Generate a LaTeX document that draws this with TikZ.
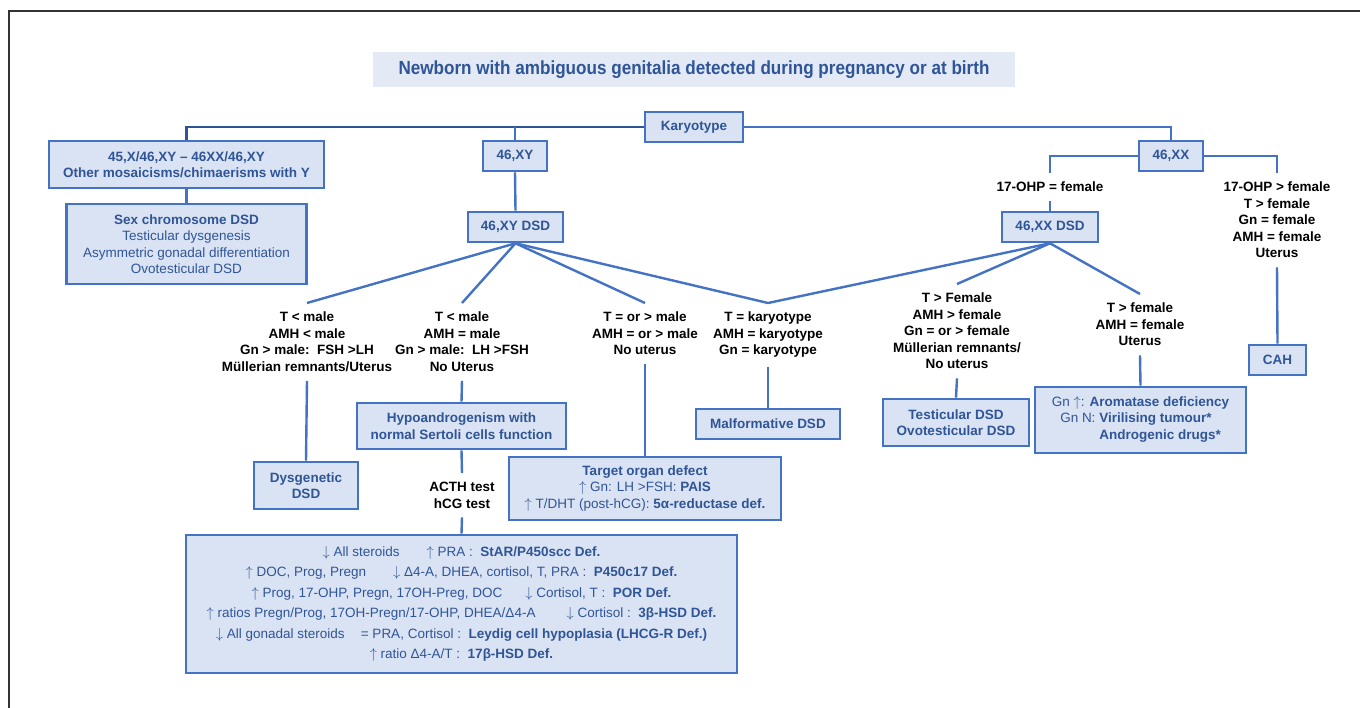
\documentclass[tikz,border=0pt]{standalone}
\usepackage{fontspec}
\setmainfont{Liberation Sans}
\newfontfamily\titlefont[FakeStretch=0.9]{Liberation Sans}
\usetikzlibrary{positioning,calc}
\definecolor{boxfill}{HTML}{DAE3F3}
\definecolor{boxline}{HTML}{4472C4}
\definecolor{boxtext}{HTML}{2F5597}
\definecolor{titlefill}{HTML}{E4EAF5}
\newcommand{\upar}{$\uparrow$}
\newcommand{\dnar}{$\downarrow$}

\begin{document}
\begin{tikzpicture}[x=1pt,y=-1pt,
  box/.style={draw=boxline,fill=boxfill,line width=2.6pt,text=boxtext,align=center,inner sep=2pt,
    font=\fontsize{13.5}{16.5}\selectfont\bfseries},
  note/.style={box,font=\fontsize{13.5}{16.5}\selectfont},
  lbl/.style={align=center,anchor=north,inner xsep=2pt,inner ysep=9pt,
    font=\fontsize{13.5}{16.5}\selectfont\bfseries},
  link/.style={draw=boxline,line width=2.4pt}]
\useasboundingbox (0,0) rectangle (1360,708);
\draw[line width=1.5pt,black!80] (9,708) -- (9,11) -- (1360,11);
% title and karyotype
\node[fill=titlefill,minimum width=642,minimum height=35,text=boxtext,
  font=\titlefont\fontsize{19}{22}\selectfont\bfseries] (title) at (694,69.5)
  {Newborn with ambiguous genitalia detected during pregnancy or at birth};
\node[box,minimum width=98,minimum height=30] (karyo) at (694,127) {Karyotype};
% mosaic branch
\node[box,minimum width=275,minimum height=47] (mosaic) at (186.5,164.5)
  {45,X/46,XY – 46XX/46,XY\\Other mosaicisms/chimaerisms with Y};
\node[box,minimum width=240,minimum height=80] (sexchr) at (186.5,244)
  {Sex chromosome DSD\\\textmd{Testicular dysgenesis}\\\textmd{Asymmetric gonadal differentiation}\\\textmd{Ovotesticular DSD}};
% 46,XY branch
\node[box,minimum width=64,minimum height=30] (xy) at (515,156) {46,XY};
\node[box,minimum width=95,minimum height=30] (xydsd) at (515.5,227) {46,XY DSD};
\node[lbl] (tlow) at (307,303) {T < male\\AMH < male\\Gn > male:\ \ FSH >LH\\Müllerian remnants/Uterus};
\node[lbl] (tlowamh) at (462,303) {T < male\\AMH = male\\Gn > male:\ \ LH >FSH\\No Uterus};
\node[lbl] (tnorm) at (645,303) {T = or > male\\AMH = or > male\\No uterus};
\node[lbl] (tkaryo) at (768,303) {T = karyotype\\AMH = karyotype\\Gn = karyotype};
\node[box,minimum width=104,minimum height=47] (dysg) at (306,485.5) {Dysgenetic\\DSD};
\node[box,minimum width=209,minimum height=46] (hypo) at (461.5,426)
  {Hypoandrogenism with\\normal Sertoli cells function};
\node[lbl] (tests) at (462,473) {ACTH test\\hCG test};
\node[box,minimum width=272,minimum height=63] (target) at (645,488.5)
  {Target organ defect\\\textmd{\upar\ Gn: LH >FSH:} PAIS\\\textmd{\upar\ T/DHT (post-hCG):} 5α-reductase def.};
\node[box,minimum width=144,minimum height=30] (malf) at (768,424) {Malformative DSD};
\node[note,minimum width=551,minimum height=138,font=\fontsize{13.5}{20.5}\selectfont] (steroid) at (461.5,604)
  {\dnar\ All steroids\hspace{2em}\upar\ PRA :\ \ \textbf{StAR/P450scc Def.}\\
   \upar\ DOC, Prog, Pregn\hspace{2em}\dnar\ Δ4-A, DHEA, cortisol, T, PRA :\ \ \textbf{P450c17 Def.}\\
   \upar\ Prog, 17-OHP, Pregn, 17OH-Preg, DOC\hspace{1.7em}\dnar\ Cortisol, T :\ \ \textbf{POR Def.}\\
   \upar\ ratios Pregn/Prog, 17OH-Pregn/17-OHP, DHEA/Δ4-A\hspace{2.3em}\dnar\ Cortisol :\ \ \textbf{3β-HSD Def.}\\
   \dnar\ All gonadal steroids\hspace{1.2em}= PRA, Cortisol :\ \ \textbf{Leydig cell hypoplasia (LHCG-R Def.)}\\
   \upar\ ratio Δ4-A/T :\ \ \textbf{17β-HSD Def.}};
% 46,XX branch
\node[box,minimum width=64,minimum height=30] (xx) at (1171,156) {46,XX};
\node[lbl] (ohpeq) at (1050,173) {17-OHP = female};
\node[lbl] (ohpgt) at (1277,173) {17-OHP > female\\T > female\\Gn = female\\AMH = female\\Uterus};
\node[box,minimum width=96,minimum height=30] (xxdsd) at (1050,227) {46,XX DSD};
\node[box,minimum width=57,minimum height=30] (cah) at (1277.5,360) {CAH};
\node[lbl] (tfem) at (957,284) {T > Female\\AMH > female\\Gn = or > female\\Müllerian remnants/\\No uterus};
\node[lbl] (tgtf) at (1140,294) {T > female\\AMH = female\\Uterus};
\node[box,minimum width=146,minimum height=47] (testic) at (956,422.5) {Testicular DSD\\Ovotesticular DSD};
\node[note,minimum width=211,minimum height=66] (aroma) at (1140.5,420)
  {Gn \upar: \textbf{Aromatase deficiency}\\
   \begin{tabular}[t]{@{}r@{ }l@{}}Gn N: & \textbf{Virilising tumour*}\\ & \textbf{Androgenic drugs*}\end{tabular}};
% connectors
\draw[link,draw=boxtext] (karyo.west) -| (mosaic.north);
\draw[link] (karyo.east) -| (xx.north);
\draw[link] (xy.north) -- (xy.north |- karyo.west);
\draw[link] (mosaic.south) -- (sexchr.north);
\draw[link] (xy.south) -- (xydsd.north);
\foreach \n in {tlow,tlowamh,tnorm}
  \draw[link] (xydsd.south) -- (\n.north);
\draw[link] (xydsd.south) -- (tkaryo.north) -- (xxdsd.south);
\draw[link] (tlow.south) -- (dysg.north);
\draw[link] (tlowamh.south) -- (hypo.north);
\draw[link] (hypo.south) -- (tests.north);
\draw[link] (tests.south) -- (steroid.north);
\draw[link] (tnorm.south) -- (target.north);
\draw[link] (tkaryo.south) -- (malf.north);
\draw[link] (xx.west) -| (ohpeq.north);
\draw[link] (xx.east) -| (ohpgt.north);
\draw[link] (ohpeq.south) -- (xxdsd.north);
\draw[link] (ohpgt.south) -- (cah.north);
\foreach \n in {tfem,tgtf}
  \draw[link] (xxdsd.south) -- (\n.north);
\draw[link] (tfem.south) -- (testic.north);
\draw[link] (tgtf.south) -- (aroma.north);
\end{tikzpicture}
\end{document}
